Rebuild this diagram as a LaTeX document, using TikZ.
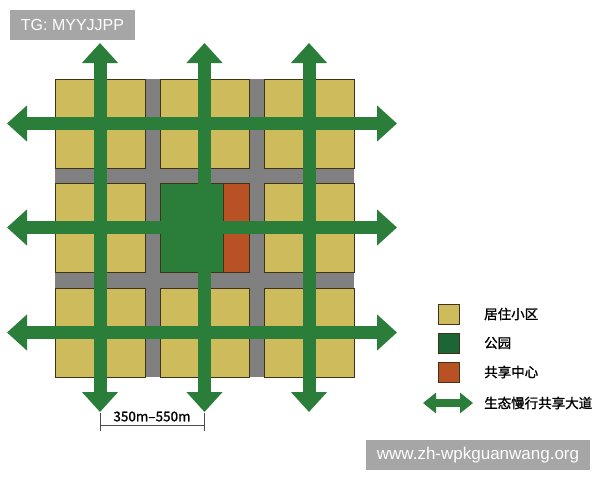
\documentclass[tikz,border=0pt]{standalone}
\usepackage{fontspec}
\setmainfont{Liberation Sans}
\newfontfamily\cjk[FakeBold=1.2]{Noto Sans CJK SC}
\usetikzlibrary{arrows.meta}
\definecolor{tileY}{RGB}{206,187,92}
\definecolor{roadG}{RGB}{128,128,128}
\definecolor{arrowG}{RGB}{42,126,58}
\definecolor{parkL}{RGB}{28,102,54}
\definecolor{shareO}{RGB}{184,82,36}
\definecolor{edgeC}{RGB}{64,50,22}
\definecolor{wmG}{RGB}{166,166,166}
\tikzset{
  tile/.style={fill=tileY,draw=edgeC,line width=0.9pt},
  parkbox/.style={fill=arrowG,draw=edgeC,line width=0.9pt},
  sharebox/.style={fill=shareO,draw=edgeC,line width=0.9pt},
  bigarrow/.style={draw=arrowG,line width=13pt,
    {Triangle[width=35pt,length=20pt]}-{Triangle[width=35pt,length=20pt]}},
  legarrow/.style={draw=arrowG,line width=8pt,
    {Triangle[width=20pt,length=13pt]}-{Triangle[width=20pt,length=13pt]}},
  legtext/.style={anchor=west,inner sep=0pt,font=\cjk\fontsize{13.5}{16}\selectfont},
  wmbox/.style={fill=wmG,text=white,inner sep=0pt,minimum height=30pt},
  dimline/.style={draw=black!70,line width=0.6pt}
}
\begin{document}
\begin{tikzpicture}[x=1pt,y=-1pt]
\useasboundingbox (0,0) rectangle (600,480);
\fill[white] (0,0) rectangle (600,480);
% roads
\fill[roadG] (55,79) rectangle (354,377);
% tiles
\foreach \cl/\cr/\cx in {55/145/100,160/249/204.5,264/354/309}{
  \foreach \rt/\rb/\ry in {79/168/123.5,183/272/227.5,288/377/332.5}{
    \draw[tile] (\cl,\rt) rectangle (\cx,\ry);
    \draw[tile] (\cx,\rt) rectangle (\cr,\ry);
    \draw[tile] (\cl,\ry) rectangle (\cx,\rb);
    \draw[tile] (\cx,\ry) rectangle (\cr,\rb);
  }
}
% park and sharing centre
\draw[parkbox] (160,183) rectangle (223,272);
\draw[sharebox] (223,183) rectangle (249,272);
% arrows
\coordinate (v1t) at (100,43);   \coordinate (v1b) at (100,412);
\coordinate (v2t) at (204.5,43); \coordinate (v2b) at (204.5,412);
\coordinate (v3t) at (309,43);   \coordinate (v3b) at (309,412);
\coordinate (h1l) at (7,123.5);  \coordinate (h1r) at (397,123.5);
\coordinate (h2l) at (7,227.5);  \coordinate (h2r) at (397,227.5);
\coordinate (h3l) at (7,332.5);  \coordinate (h3r) at (397,332.5);
\draw[bigarrow] (v1t) -- (v1b);
\draw[bigarrow] (v2t) -- (v2b);
\draw[bigarrow] (v3t) -- (v3b);
\draw[bigarrow] (h1l) -- (h1r);
\draw[bigarrow] (h2l) -- (h2r);
\draw[bigarrow] (h3l) -- (h3r);
% dimension
\coordinate (d1t) at (100,413); \coordinate (d1b) at (100,431);
\coordinate (d2t) at (204,413); \coordinate (d2b) at (204,431);
\coordinate (d1m) at (100,425); \coordinate (d2m) at (204,425);
\draw[dimline] (d1t) -- (d1b);
\draw[dimline] (d2t) -- (d2b);
\draw[dimline] (d1m) -- (d2m);
\node[inner sep=0pt,font=\cjk\fontsize{13.5}{16}\selectfont] (dimtext) at (152,416.5) {350m–550m};
% legend
\draw[fill=tileY,draw=edgeC,line width=0.9pt] (438,304) rectangle (459,324);
\draw[fill=parkL,draw=edgeC,line width=0.9pt] (438,333) rectangle (459,353);
\draw[fill=shareO,draw=edgeC,line width=0.9pt] (438,362) rectangle (459,382);
\coordinate (la) at (423,403); \coordinate (lb) at (473,403);
\draw[legarrow] (la) -- (lb);
\node[legtext] (l1) at (484,314) {居住小区};
\node[legtext] (l2) at (484,343) {公园};
\node[legtext] (l3) at (484,372) {共享中心};
\node[legtext] (l4) at (484,403) {生态慢行共享大道};
% watermarks
\node[wmbox,minimum width=125pt,font=\fontsize{16}{18}\selectfont] (wm1) at (72.5,25) {TG: MYYJJPP};
\node[wmbox,minimum width=224pt,font=\fontsize{17}{19}\selectfont] (wm2) at (478,455) {www.zh-wpkguanwang.org};
\end{tikzpicture}
\end{document}
